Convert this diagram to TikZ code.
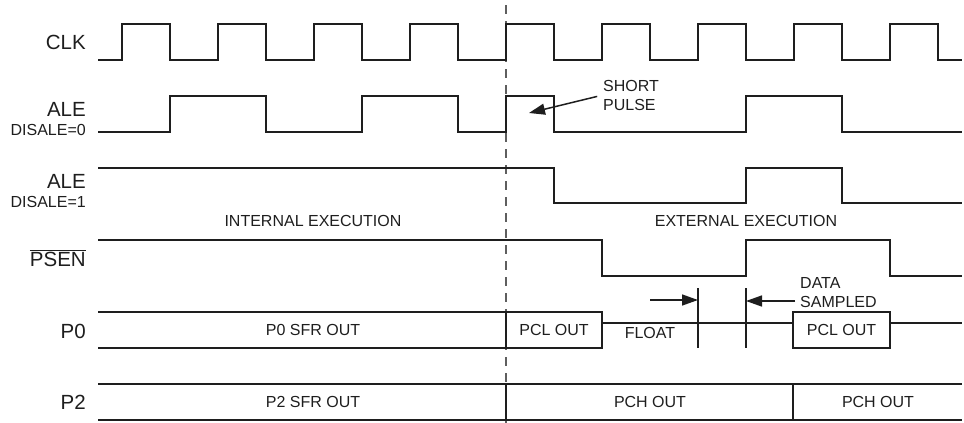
\documentclass[tikz,border=0pt]{standalone}
\usepackage{fontspec}
\setmainfont{Liberation Sans}
\usetikzlibrary{arrows.meta}
\definecolor{sigblack}{HTML}{1E1E1E}
\definecolor{guidegray}{HTML}{5E5E5E}

\begin{document}
\begin{tikzpicture}[x=1pt,y=-1pt,
    sig/.style={line width=2.8pt,draw=sigblack},
    biglbl/.style={anchor=east,inner sep=0pt,text=sigblack,font=\fontsize{20.5}{24}\selectfont},
    smalllbl/.style={inner sep=0pt,text=sigblack,font=\fontsize{16}{19}\selectfont},
    busbox/.style={sig,smalllbl,minimum width=96pt,minimum height=36pt},
    note/.style={line width=1.5pt,draw=sigblack},
    tip/.style={-{Triangle[length=16pt,width=11pt]}}]
  \useasboundingbox (0,0) rectangle (964,423);
  \draw[guidegray,line width=1.4pt,dash pattern=on 9pt off 7pt] (506,5) -- (506,423);
  % signal names
  \node[biglbl] (clklbl) at (86,42.5) {CLK};
  \node[biglbl] (ale0lbl) at (86,109.5) {ALE};
  \node[smalllbl,anchor=east] (dis0lbl) at (86,129.5) {DISALE=0};
  \node[biglbl] (ale1lbl) at (86,181) {ALE};
  \node[smalllbl,anchor=east] (dis1lbl) at (86,202) {DISALE=1};
  \node[biglbl] (psenlbl) at (86,258) {$\overline{\hbox{PSEN}}$};
  \node[biglbl] (p0lbl) at (86,331) {P0};
  \node[biglbl] (p2lbl) at (86,402.5) {P2};
  % waveforms
  \draw[sig] (98,60) foreach \k in {0,...,8} {-- ({122+96*\k},60) -- ({122+96*\k},24) -- ({170+96*\k},24) -- ({170+96*\k},60)} -- (962,60);
  \draw[sig] (98,132) -- (170,132) -- (170,96) -- (266,96) -- (266,132) -- (362,132) -- (362,96) -- (458,96) -- (458,132)
    -- (506,132) -- (506,96) -- (554,96) -- (554,132) -- (746,132) -- (746,96) -- (842,96) -- (842,132) -- (962,132);
  \draw[sig] (98,168) -- (554,168) -- (554,203) -- (746,203) -- (746,168) -- (842,168) -- (842,203) -- (962,203);
  \draw[sig] (98,240) -- (602,240) -- (602,276) -- (746,276) -- (746,240) -- (890,240) -- (890,276) -- (962,276);
  \node[smalllbl] (intlbl) at (313,221) {INTERNAL EXECUTION};
  \node[smalllbl] (extlbl) at (746,221) {EXTERNAL EXECUTION};
  % port 0
  \draw[sig] (98,312) -- (506,312) (98,348) -- (506,348);
  \node[smalllbl] (p0sfr) at (313,330) {P0 SFR OUT};
  \node[busbox,draw] (pcla) at (554,330) {PCL OUT};
  \node[busbox,draw,minimum width=97pt] (pclb) at (841.5,330) {PCL OUT};
  \draw[sig] ([yshift=7pt]pcla.east) -- ([yshift=7pt]pclb.west);
  \draw[sig] ([yshift=7pt]pclb.east) -- (962,323);
  \node[smalllbl] (floatlbl) at (650,333) {FLOAT};
  \draw[line width=1.6pt,sigblack] (698,288) -- (698,348) (746,288) -- (746,348);
  \coordinate (floatfrom) at (650,300);
  \coordinate (tickl) at (698,300);
  \coordinate (samplefrom) at (795,301);
  \coordinate (tickr) at (746,301);
  \draw[note,tip] (floatfrom) -- (tickl);
  \draw[note,tip] (samplefrom) -- (tickr);
  \node[smalllbl,anchor=west,align=left] (samplelbl) at (800,292.5) {DATA\\SAMPLED};
  % port 2
  \draw[sig] (98,384) -- (962,384) (98,420) -- (962,420);
  \draw[sig] (506,384) -- (506,420) (793,384) -- (793,420);
  \node[smalllbl] (p2sfr) at (313,402) {P2 SFR OUT};
  \node[smalllbl] (pcha) at (650,402) {PCH OUT};
  \node[smalllbl] (pchb) at (878,402) {PCH OUT};
  % short pulse note
  \node[smalllbl,anchor=west,align=left] (pulselbl) at (603,95) {SHORT\\PULSE};
  \coordinate (pulsetip) at (529,113);
  \draw[note,tip,shorten <=6pt] (pulselbl.west) -- (pulsetip);
\end{tikzpicture}
\end{document}
